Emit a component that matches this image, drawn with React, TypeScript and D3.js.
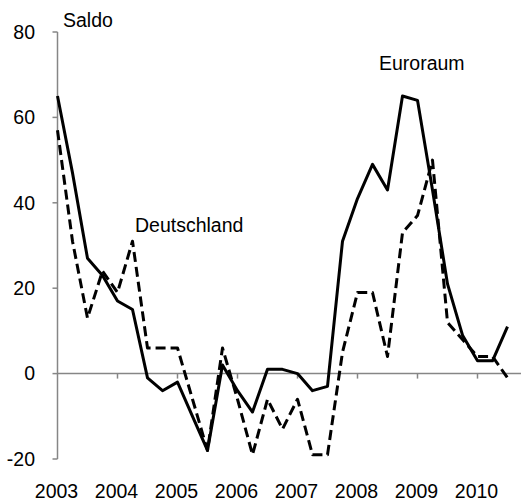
import React from "react";
import * as d3 from "d3";

const years = ["2003", "2004", "2005", "2006", "2007", "2008", "2009", "2010"];
const yTicks = [-20, 0, 20, 40, 60, 80];
const euroraum = [65, 47, 27, 23, 17, 15, -1, -4, -2, -10, -18, 2, -4, -9, 1, 1, 0, -4, -3, 31, 41, 49, 43, 65, 64, 43, 21, 9, 3, 3, 11];
const deutschland = [57, 31, 13, 24, 19, 31, 6, 6, 6, -6, -18, 6, -6, -19, -6, -13, -6, -19, -19, 5, 19, 19, 4, 33, 37, 50, 12, 8, 4, 4, -1];

const W = 521;
const H = 501;
const FONT = "'Liberation Sans', Arial, sans-serif";
const FS = 19.5;

export default function App() {
  const x = d3.scaleLinear().domain([0, 31]).range([57.5, 522.5]);
  const y = d3.scaleLinear().domain([-20, 80]).range([459, 32]);
  const line = d3
    .line<number>()
    .x((_, i) => x(i))
    .y((d) => y(d));
  const axisColor = "#868686";

  return (
    <svg
      width={W}
      height={H}
      style={{ position: "absolute", left: 0, top: 0, background: "#fff" }}
      fontFamily={FONT}
    >
      <rect x={0} y={0} width={W} height={H} fill="#fff" />
      {/* y axis */}
      <line x1={x(0)} x2={x(0)} y1={y(80)} y2={y(-20)} stroke={axisColor} strokeWidth={1.5} />
      {yTicks.map((t) => (
        <g key={t}>
          <line x1={x(0) - 5} x2={x(0)} y1={y(t)} y2={y(t)} stroke={axisColor} strokeWidth={1.5} />
          <text x={35} y={y(t)} dy="0.35em" textAnchor="end" fontSize={FS} fill="#000">
            {t}
          </text>
        </g>
      ))}
      {/* x axis at zero */}
      <line x1={x(0)} x2={x(31)} y1={y(0)} y2={y(0)} stroke={axisColor} strokeWidth={1.5} />
      {years.map((yr, k) => (
        <g key={yr}>
          {k > 0 && (
            <line x1={x(k * 4)} x2={x(k * 4)} y1={y(0)} y2={y(0) + 5} stroke={axisColor} strokeWidth={1.5} />
          )}
          <text x={x(k * 4) - 1} y={498} textAnchor="middle" fontSize={FS} fill="#000">
            {yr}
          </text>
        </g>
      ))}
      {/* series */}
      <path d={line(deutschland) || ""} fill="none" stroke="#000" strokeWidth={3} strokeDasharray="10,5" strokeLinejoin="round" />
      <path d={line(euroraum) || ""} fill="none" stroke="#000" strokeWidth={3} strokeLinejoin="round" />
      {/* labels */}
      <text x={63} y={27} fontSize={FS} fill="#000">Saldo</text>
      <text x={135} y={232} fontSize={FS} fill="#000">Deutschland</text>
      <text x={379} y={70} fontSize={FS} fill="#000">Euroraum</text>
    </svg>
  );
}
